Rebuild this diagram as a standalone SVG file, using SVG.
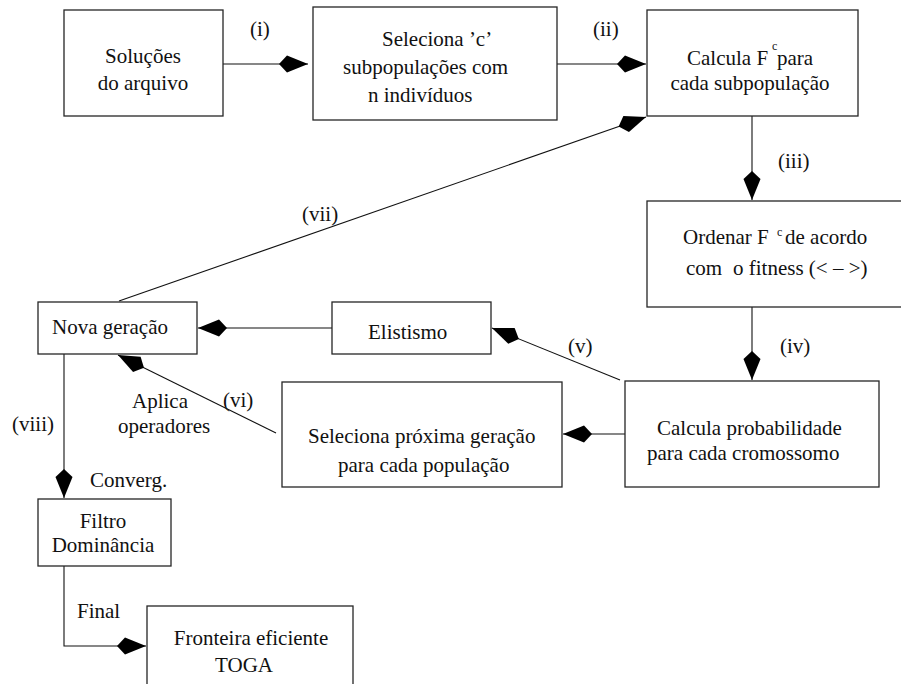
<svg xmlns="http://www.w3.org/2000/svg" width="901" height="684" viewBox="0 0 901 684">
<style>
.box{fill:#fff;stroke:#262626;stroke-width:1.3}
.t{font-family:"Liberation Serif","Times New Roman",serif;font-size:21px;fill:#111}
.sup{font-family:"Liberation Serif","Times New Roman",serif;font-size:12px;fill:#111}
.c{stroke:#111;stroke-width:1.1;fill:none;marker-end:url(#kite)}
</style>
<defs>
<marker id="kite" markerUnits="userSpaceOnUse" orient="auto" markerWidth="32" markerHeight="20" refX="29" refY="9" viewBox="0 0 32 20">
<path d="M0,9 L8,0.5 L29,9 L8,17.5 Z" fill="#000"/>
</marker>
</defs>
<rect width="901" height="684" fill="#fff"/>
<g id="connectors">
<line class="c" x1="223" y1="64" x2="308" y2="64"/>
<line class="c" x1="557" y1="64" x2="646" y2="64"/>
<line class="c" x1="752" y1="116" x2="752" y2="200"/>
<line class="c" x1="752" y1="307" x2="752" y2="380"/>
<line class="c" x1="625" y1="434" x2="563" y2="434"/>
<line class="c" x1="620" y1="380" x2="492" y2="328"/>
<line class="c" x1="332" y1="328" x2="198" y2="328"/>
<line class="c" x1="276" y1="433" x2="118" y2="355"/>
<line class="c" x1="119" y1="301" x2="646" y2="117"/>
<line class="c" x1="64" y1="354" x2="64" y2="498"/>
<path class="c" d="M64,566 V646 H146"/>
<text class="t" x="250" y="36">(i)</text>
<text class="t" x="593" y="36">(ii)</text>
<text class="t" x="778" y="168">(iii)</text>
<text class="t" x="780" y="353">(iv)</text>
<text class="t" x="568" y="353">(v)</text>
<text class="t" x="223" y="407">(vi)</text>
<text class="t" x="302" y="221">(vii)</text>
<text class="t" x="12" y="431">(viii)</text>
<text class="t" x="132" y="408">Aplica</text>
<text class="t" x="118" y="433">operadores</text>
<text class="t" x="90" y="487">Converg.</text>
<text class="t" x="77" y="618">Final</text>
</g>
<g id="n1"><rect class="box" x="64" y="10" width="159" height="106"/>
<text class="t" x="143" y="63" text-anchor="middle">Soluções</text>
<text class="t" x="143" y="90" text-anchor="middle">do arquivo</text></g>
<g id="n2"><rect class="box" x="313" y="7" width="244" height="113"/>
<text class="t" x="382" y="46">Seleciona ’c’</text>
<text class="t" x="343" y="74">subpopulações com</text>
<text class="t" x="368" y="102">n indivíduos</text></g>
<g id="n3"><rect class="box" x="647" y="10" width="211" height="106"/>
<text class="t" x="687" y="65">Calcula F</text>
<text class="sup" x="772" y="50">c</text>
<text class="t" x="777" y="65">para</text>
<text class="t" x="750" y="90" text-anchor="middle">cada subpopulação</text></g>
<g id="n4"><rect class="box" x="647" y="201" width="270" height="106"/>
<text class="t" x="683" y="244">Ordenar F</text>
<text class="sup" x="777" y="236">c</text>
<text class="t" x="785" y="244">de acordo</text>
<text class="t" x="686" y="275">com</text>
<text class="t" x="733" y="275">o fitness (&lt; – &gt;)</text></g>
<g id="n5"><rect class="box" x="625" y="381" width="254" height="106"/>
<text class="t" x="657" y="435">Calcula probabilidade</text>
<text class="t" x="647" y="460">para cada cromossomo</text></g>
<g id="n6"><rect class="box" x="282" y="382" width="280" height="105"/>
<text class="t" x="308" y="443">Seleciona próxima geração</text>
<text class="t" x="338" y="472">para cada população</text></g>
<g id="n7"><rect class="box" x="332" y="302" width="159" height="52"/>
<text class="t" x="368" y="339">Elistismo</text></g>
<g id="n8"><rect class="box" x="38" y="302" width="159" height="52"/>
<text class="t" x="52" y="334">Nova geração</text></g>
<g id="n9"><rect class="box" x="38" y="499" width="133" height="67"/>
<text class="t" x="103" y="528" text-anchor="middle">Filtro</text>
<text class="t" x="103" y="552" text-anchor="middle">Dominância</text></g>
<g id="n10"><rect class="box" x="147" y="606" width="206" height="100"/>
<text class="t" x="251" y="645" text-anchor="middle">Fronteira eficiente</text>
<text class="t" x="244" y="672" text-anchor="middle">TOGA</text></g>
</svg>
